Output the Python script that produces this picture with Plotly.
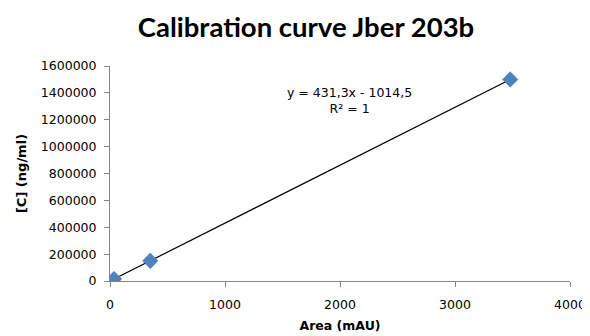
import numpy as np
import plotly.graph_objects as go

area = [35, 350, 3480]
conc = [15000, 150000, 1500000]
x_ticks = [0, 1000, 2000, 3000, 4000]
y_ticks = [0, 200000, 400000, 600000, 800000, 1000000, 1200000, 1400000, 1600000]

slope, intercept = np.polyfit(area, conc, 1)
fit_x = [min(area), max(area)]
fit_y = [slope * v + intercept for v in fit_x]

fig = go.Figure()
fig.add_trace(go.Scatter(x=fit_x, y=fit_y, mode="lines",
                         line=dict(color="black", width=1.2), showlegend=False, hoverinfo="skip"))
fig.add_trace(go.Scatter(x=area, y=conc, mode="markers",
                         marker=dict(symbol="diamond", size=12, color="#4F81BD",
                                     line=dict(color="#4A7EBB", width=0.5)),
                         showlegend=False))

font = "DejaVu Sans, sans-serif"
title_font = "Lato, DejaVu Sans, sans-serif"
fig.add_annotation(x=0.52, y=1.0, xref="paper", yref="paper", showarrow=False,
                   yanchor="top", yshift=-17,
                   text="y = 431,3x - 1014,5<br>R² = 1", align="center",
                   font=dict(family=font, size=12.5, color="black"))

# page body adds an 8px offset, so figure size and margins are compensated
fig.update_layout(
    width=582, height=328,
    margin=dict(l=102, r=20, t=58, b=55),
    paper_bgcolor="white", plot_bgcolor="white",
    title=dict(text="<b>Calibration curve Jber 203b</b>", x=0.512, xanchor="center",
               y=0.94, yanchor="middle", font=dict(family=title_font, size=27.5, color="black")),
    font=dict(family=font, size=12.5, color="black"),
)
fig.update_xaxes(range=[0, 4000], tickvals=x_ticks, ticktext=[str(v) for v in x_ticks],
                 showgrid=False, zeroline=False, showline=True, linecolor="#868686",
                 ticks="outside", ticklen=5, tickcolor="#868686", automargin=False,
                 ticklabelstandoff=7,
                 title=dict(text="<b>Area (mAU)</b>", font=dict(size=12.5), standoff=10))
fig.update_yaxes(range=[0, 1600000], tickvals=y_ticks, ticktext=[str(v) for v in y_ticks],
                 showgrid=False, zeroline=False, showline=True, linecolor="#868686",
                 ticks="outside", ticklen=5, tickcolor="#868686", automargin=False,
                 ticklabelstandoff=5,
                 title=dict(text="<b>[C] (ng/ml)</b>", font=dict(size=13), standoff=11))

fig.write_html("out.html")
